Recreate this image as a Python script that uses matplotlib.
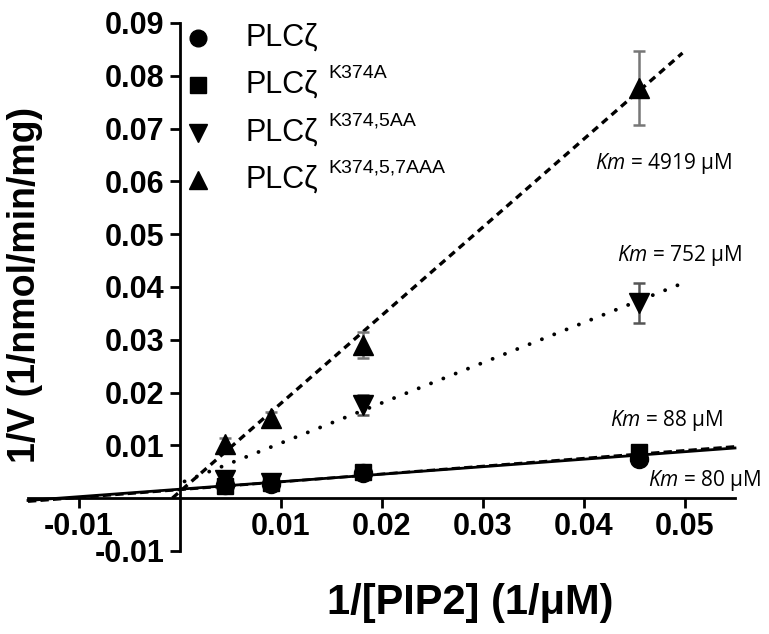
import numpy as np
import matplotlib
matplotlib.use("Agg")
import matplotlib.pyplot as plt

# ---------------- data ----------------
x_vals = [1/220, 1/110, 1/55, 1/22]          # 1/[PIP2] (1/uM)

name_base = ["PLCζ", "PLCζ", "PLCζ", "PLCζ"]
name_sup = ["", "K374A", "K374,5AA", "K374,5,7AAA"]

y_wt = [0.0025, 0.0027, 0.0047, 0.0075]
y_k374a = [0.0024, 0.0028, 0.0049, 0.0087]
y_k3745aa = [0.0034, 0.0029, 0.0176, 0.0369]
y_k37457aaa = [0.0102, 0.0151, 0.0290, 0.0777]

e_wt = [0.0004, 0.0004, 0.0005, 0.0006]
e_k374a = [0.0004, 0.0004, 0.0005, 0.0006]
e_k3745aa = [0.0015, 0.0005, 0.0019, 0.0038]
e_k37457aaa = [0.0012, 0.0012, 0.0025, 0.0070]

# fitted lines (slope, intercept, x range)
fit_slope = [0.142, 0.149, 0.761, 1.669]
fit_intercept = [0.0017, 0.0016, 0.0028, 0.0012]
fit_x_start = [-0.015, -0.015, 0.0005, -0.0007]
fit_x_end = [0.055, 0.055, 0.0498, 0.0498]

km_labels = ["80", "88", "752", "4919"]
km_pos_x = [0.0464, 0.0426, 0.0433, 0.0411]
km_pos_y = [0.0034, 0.0148, 0.0460, 0.0634]

x_ticks = [-0.01, 0.01, 0.02, 0.03, 0.04, 0.05]
y_ticks = [-0.01, 0.01, 0.02, 0.03, 0.04, 0.05, 0.06, 0.07, 0.08, 0.09]

# ---------------- style ----------------
plt.rcParams['font.family'] = ['Liberation Sans', 'DejaVu Sans']
plt.rcParams['mathtext.fontset'] = 'custom'
plt.rcParams['mathtext.rm'] = 'Open Sans'
plt.rcParams['mathtext.it'] = 'Open Sans:italic'

fig = plt.figure(figsize=(7.69, 6.34), dpi=100)
ax = fig.add_axes([28/769, 1-551/634, (735-28)/769, (551-23)/634])
ax.set_xlim(-0.015, 0.055)
ax.set_ylim(-0.01, 0.09)

series_y = [y_wt, y_k374a, y_k3745aa, y_k37457aaa]
series_e = [e_wt, e_k374a, e_k3745aa, e_k37457aaa]
markers = ['o', 's', 'v', '^']
msizes = [13, 12, 14, 14]
ecolors = ['#333333', '#333333', '#555555', '#777777']
line_styles = ['-', (0, (3, 1.5)), (0, (0.01, 3.4)), (0, (2.2, 1.6))]
line_widths = [2.0, 2.0, 2.8, 2.4]
cap_styles = ['butt', 'butt', 'round', 'butt']

for i in range(4):
    xs = np.array([fit_x_start[i], fit_x_end[i]])
    ax.plot(xs, fit_slope[i]*xs + fit_intercept[i], color='black',
            linestyle=line_styles[i], lw=line_widths[i],
            dash_capstyle=cap_styles[i], zorder=2, clip_on=False)

for i in range(4):
    ax.errorbar(x_vals, series_y[i], yerr=series_e[i], fmt='none',
                ecolor=ecolors[i], elinewidth=1.8, capsize=4, capthick=1.8, zorder=3)
    ax.plot(x_vals, series_y[i], linestyle='none', marker=markers[i],
            ms=msizes[i], color='black', zorder=4)

# spines
for s in ['top', 'right']:
    ax.spines[s].set_visible(False)
ax.spines['left'].set_position(('data', 0))
ax.spines['bottom'].set_position(('data', 0))
ax.spines['left'].set_linewidth(2)
ax.spines['bottom'].set_linewidth(2)
ax.spines['left'].set_bounds(-0.01, 0.09)

ax.set_xticks(x_ticks)
ax.set_yticks(y_ticks)
ax.set_xticklabels([f"{t:.2f}" for t in x_ticks], fontsize=22, fontweight='bold')
ax.set_yticklabels([f"{t:.2f}" for t in y_ticks], fontsize=22, fontweight='bold')
ax.tick_params(axis='both', direction='out', length=7, width=2, pad=3)
ax.tick_params(axis='y', pad=4)

# Km annotations
for i in range(4):
    ax.text(km_pos_x[i], km_pos_y[i], f"$\\mathit{{Km}}$ = {km_labels[i]} μM",
            fontsize=15, family=['Open Sans', 'DejaVu Sans'], va='center', ha='left')

# legend (manual)
leg_y = [38, 85, 133, 180]
for i in range(4):
    fy = 1 - leg_y[i]/634
    fig.lines.append(plt.Line2D([198/769], [fy], marker=markers[i], ms=msizes[i]-1,
                                color='black', transform=fig.transFigure))
    fig.text(246/769, fy, name_base[i], fontsize=22, va='center', ha='left')
    if name_sup[i]:
        fig.text(328/769, 1 - (leg_y[i]-12)/634, name_sup[i], fontsize=14,
                 va='center', ha='left')

fig.text(25/769, 1-285/634, "1/V (1/nmol/min/mg)", rotation=90, fontsize=27,
         fontweight='bold', ha='center', va='center')
fig.text(470/769, 1-603/634, "1/[PIP2] (1/μM)", fontsize=30, fontweight='bold',
         ha='center', va='center')

fig.savefig("out.png", dpi=100)
